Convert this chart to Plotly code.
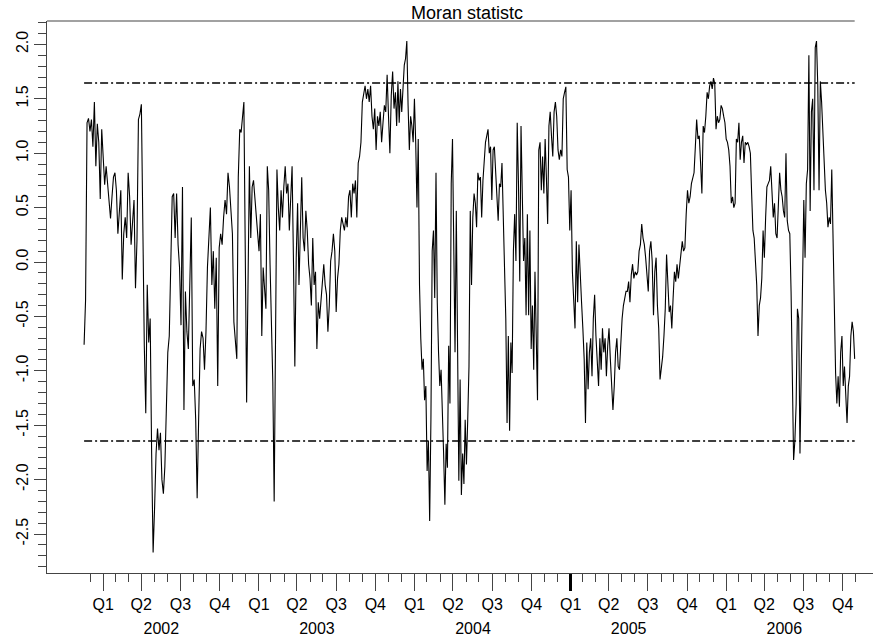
import pandas as pd
import plotly.graph_objects as go

# Moran statistic, read per calendar year (values evenly spaced within each year)
v2002 = [-0.76, -0.35, 1.28, 1.32, 1.2, 1.31, 1.06, 1.47, 0.88, 1.27, 1.1, 0.58, 1.22, 1.0,
         0.71, 0.88, 0.7, 0.5, 0.4, 0.6, 0.78, 0.82, 0.66, 0.26, 0.44, 0.66, -0.16, 0.26,
         0.41, 0.22, 0.82, 0.6, 0.16, 0.41, 0.57, -0.24, 0.19, 1.31, 1.36, 1.45, 0.1, -0.77,
         -1.39, -0.21, -0.74, -0.52, -1.76, -2.67, -2.26, -1.76, -1.53, -1.73, -1.57, -2.0,
         -2.13, -1.88, -1.36, -0.83, -0.68, 0.1, 0.6, 0.63, 0.22, 0.63, 0.16, -0.05, -0.58,
         0.69, -1.36, -0.27, -0.64, -0.8, -0.02, 0.41, -1.14, -1.08, -1.45, -2.17, -1.45,
         -0.8, -0.64, -0.7, -0.99, -0.64, -0.05, 0.29, 0.5, -0.21, 0.1, -0.43, 0.04, -1.14,
         0.13, 0.26, 0.16, 0.41, 0.57, 0.44, 0.82, 0.69, 0.41, 0.26, -0.55, -0.7, -0.89, 0.78]

v2003 = [1.22, 1.19, 1.38, 1.47, 0.1, -1.29, -0.21, 0.88, 0.22, 0.69, 0.75, 0.57, 0.41, 0.26,
         0.1, 0.44, -0.68, -0.05, -0.21, -0.43, 0.88, 0.66, -0.02, -0.7, -1.1,
         -2.2, -0.27, 0.85, 0.5, 0.29, 0.66, 0.41, 0.69, 0.88, 0.63, 0.72, 0.29, 0.6, 0.88,
         0.01, -0.96, 0.04, 0.54, -0.21, 0.35, 0.78, 0.22, 0.1, 0.47, 0.29, -0.02, -0.15,
         -0.4, 0.22, -0.21, -0.09, -0.8, -0.37, -0.52, -0.33, -0.15, -0.02, -0.21, -0.3,
         -0.64, -0.4, 0.01, 0.1, 0.26, 0.1, -0.46, -0.15, -0.02, 0.29, 0.41, 0.35, 0.29,
         0.41, 0.32, 0.6, 0.66, 0.41, 0.72, 0.63, 0.75, 0.41, 0.91, 0.97, 1.1, 1.47, 1.53,
         1.62, 1.5, 1.59, 1.47, 1.62, 1.34, 1.22, 1.41, 1.03, 1.34, 1.25, 1.38, 1.1, 1.28,
         1.44, 1.38, 1.72, 1.34, 1.0, 1.53, 1.75, 1.41]

v2004 = [1.56, 1.25, 1.66, 1.28, 1.59, 1.38, 1.66, 1.81, 1.87, 2.03, 1.44, 1.03, 1.34, 1.25,
         1.1, 1.5, 1.1, 0.5, 1.13, -0.21, -0.7, -0.99, -0.89, -1.27, -1.14, -1.92, -1.64,
         -2.38, -1.45, 0.1, 0.29, -0.33, 0.82, -0.37, -0.83, -1.14, -0.99, -1.51, -1.76,
         -2.23, -1.67, -1.89, -0.77, -1.3, 0.72, 1.13, 0.1, -0.83, 0.47, -1.14, -2.01,
         -1.08, -2.14, -1.76, -2.04, -1.45, -1.86, -1.45, -0.96,
         0.47, -0.21, 0.41, 0.63, 0.54, 0.32, 0.82, 0.75, 0.78, 0.41, 0.75, 0.97, 1.1, 1.16,
         1.22, 1.0, 1.06, 0.57, 1.03, 1.06, 0.78, 0.63, 0.38, 0.72, 0.69, 0.91, 0.29, -0.05,
         -0.52, -1.48, -0.68, -1.55, -0.74, -1.02, 0.1, 0.44, 0.01, 1.28, 0.72, -0.18, 1.25,
         0.41, 0.01, 0.22, -0.49, 0.44, -0.49, 0.29, -0.8, -0.4, -0.99, -0.09, -0.64, -1.27,
         1.03, 1.1, 0.66, 0.97, 0.63, 1.13, 0.78, 0.35, 1.25, 1.38]

v2005 = [1.16, 0.97, 1.38, 1.47, 1.34, 1.03, 0.94, 1.03, 0.97, 1.5, 1.56, 1.61, 0.85, 0.78,
         0.29, 0.66, -0.09, -0.33, -0.61, 0.19, -0.37, 0.16, -0.21, -0.37, -0.61, -0.89,
         -1.48, -0.74, -1.17, -0.83, -0.7, -1.05, -0.52, -0.3, -0.68, -0.99, -1.14, -0.7,
         -0.99, -0.61, -0.83, -0.7, -1.05, -0.77, -0.61, -0.89, -1.08, -1.36, -1.14, -0.83,
         -0.7, -0.96, -0.99, -0.7, -0.52, -0.4, -0.33, -0.27, -0.27, -0.18, -0.37, -0.12,
         -0.02, -0.15, -0.09, -0.12, -0.09, 0.1, 0.16, 0.35, 0.22, 0.16, 0.04, -0.09, -0.27,
         0.1, 0.19, 0.01, -0.49, -0.09, 0.04, -0.4, -0.61, -1.08, -0.99, -0.87, -0.68,
         -0.43, 0.07, -0.27, -0.46, -0.4, -0.61, -0.33, -0.09, -0.18, -0.02, -0.15, -0.05,
         0.1, 0.19, 0.1, 0.13, 0.44, 0.66, 0.54, 0.6, 0.72, 0.78, 0.82, 1.06, 1.31, 1.13,
         1.16, 0.91, 0.63, 1.25, 1.19, 1.34]

v2006 = [1.56, 1.5, 1.62, 1.66, 1.59, 1.69, 1.64, 1.22, 1.34, 1.28, 1.31, 1.44, 1.41, 1.34,
         1.28, 1.13, 1.1, 1.03, 0.88, 0.54, 0.6, 0.5, 0.54, 1.13, 1.1, 1.28, 0.94, 1.1, 1.16,
         0.91, 1.1, 1.08, 1.1, 1.06, 1.0, 0.63, 0.29, 0.22, 0.04, -0.21, -0.68, -0.4, -0.33,
         -0.15, 0.29, 0.04, 0.41, 0.69, 0.72, 0.75, 0.88, 0.6, 0.41, 0.54, 0.26, 0.22, 0.6,
         0.82, 0.66, 0.6, 0.47, 0.41, 1.0, 0.38, 0.29, 0.26, -0.27, -0.99, -1.82, -1.64,
         -1.3, -0.43, -0.52, -1.76, -1.14, -0.21, 0.57, 0.04, 0.72, 0.85, 1.9, 0.47, 1.38,
         1.5, 0.66, 1.97, 2.03, 1.62, 0.66, 1.66, 1.47, 1.19, 0.78, 0.66, 0.54, 0.32, 0.41,
         0.35, 0.85, 0.1, -0.52, -1.02, -1.3, -1.05, -1.33, -0.83, -0.68, -1.14, -0.96, -1.3,
         -1.48, -1.14, -1.05, -0.68, -0.55, -0.64, -0.89]

year_values = [v2002, v2003, v2004, v2005, v2006]
year_spans = [("2002-01-01", "2003-01-01"), ("2003-01-01", "2004-01-01"),
              ("2004-01-01", "2005-01-01"), ("2005-01-01", "2006-01-01"),
              ("2006-01-01", "2006-12-16")]

crit = 1.645  # two-sided 10% normal critical value

years = [2002, 2003, 2004, 2005, 2006]
quarter_labels = ["Q1", "Q2", "Q3", "Q4"]
y_major = [-2.5, -2.0, -1.5, -1.0, -0.5, 0.0, 0.5, 1.0, 1.5, 2.0]
y_minor = [round(-2.8 + 0.1 * i, 1) for i in range(51)]

# build the time index
dates, values = [], []
for (start, end), vals in zip(year_spans, year_values):
    d = pd.date_range(start, end, periods=len(vals) + 1)[:-1]
    dates.extend(d)
    values.extend(vals)

# quarter ticks at mid-quarter, month ticks at mid-month
q_ticks, q_text = [], []
for y in years:
    for m, lab in zip([2, 5, 8, 11], quarter_labels):
        q_ticks.append(pd.Timestamp(y, m, 15))
        q_text.append(lab)
m_ticks = list(pd.date_range("2001-12-15", "2006-12-15", freq="MS") + pd.Timedelta(days=14))
yr_ticks = [pd.Timestamp(y, 7, 1) for y in years]

x_range = [pd.Timestamp("2001-10-06"), pd.Timestamp("2007-01-25")]
font = dict(family="Liberation Sans, Arial, Helvetica, sans-serif", size=16, color="black")
title_font = dict(font, size=18)
axis_col = "#444444"

fig = go.Figure()
fig.add_trace(go.Scatter(x=dates, y=values, mode="lines",
                         line=dict(color="black", width=1.1), showlegend=False,
                         hoverinfo="skip"))
fig.add_trace(go.Scatter(x=[], y=[], xaxis="x2", showlegend=False, hoverinfo="skip"))
fig.add_trace(go.Scatter(x=[], y=[], xaxis="x3", showlegend=False, hoverinfo="skip"))

for level in (crit, -crit):
    fig.add_shape(type="line", x0=dates[0], x1=dates[-1], y0=level, y1=level,
                  xref="x", yref="y",
                  line=dict(color="black", width=1.6, dash="8px,3px,2px,3px"))

# frame line along the top
fig.add_shape(type="line", x0=x_range[0], x1=dates[-1], y0=1, y1=1,
              xref="x", yref="paper", line=dict(color=axis_col, width=1.2))

fig.add_annotation(text="Moran statistc", x=0.5085, y=1, xref="paper", yref="paper",
                   xanchor="center", yanchor="bottom", yshift=-4, showarrow=False,
                   font=title_font)

fig.update_layout(
    width=875, height=638,
    margin=dict(l=47, r=2, t=21, b=65, pad=0),
    paper_bgcolor="white", plot_bgcolor="white",
    font=font,
    xaxis=dict(range=x_range, type="date", showgrid=False, zeroline=False,
               showline=True, linecolor=axis_col, linewidth=1.2,
               tickmode="array", tickvals=q_ticks, ticktext=q_text,
               ticks="outside", ticklen=17, tickwidth=1.2, tickcolor=axis_col,
               minor=dict(tickmode="array", tickvals=m_ticks, ticks="outside",
                          ticklen=8, tickwidth=1.2, tickcolor=axis_col, showgrid=False),
               tickfont=font),
    xaxis2=dict(range=x_range, type="date", overlaying="x", anchor="y", side="bottom",
                showgrid=False, zeroline=False, showline=False,
                tickmode="array", tickvals=yr_ticks, ticktext=[str(y) for y in years],
                ticks="", ticklabelstandoff=44, tickfont=font),
    xaxis3=dict(range=x_range, type="date", overlaying="x", anchor="y", side="bottom",
                showgrid=False, zeroline=False, showline=False, showticklabels=False,
                tickmode="array", tickvals=[pd.Timestamp(2005, 2, 15)],
                ticks="outside", ticklen=17, tickwidth=2.6, tickcolor="black"),
    yaxis=dict(range=[-2.858, 2.215], showgrid=False, zeroline=False,
               showline=True, linecolor=axis_col, linewidth=1.2,
               tickmode="array", tickvals=y_major,
               ticktext=[f"{v:.1f}" for v in y_major],
               ticks="outside", ticklen=12, tickwidth=1.2, tickcolor=axis_col,
               tickangle=-90,
               minor=dict(tickmode="array", tickvals=y_minor, ticks="outside",
                          ticklen=8, tickwidth=1.2, tickcolor=axis_col, showgrid=False),
               tickfont=font),
)

fig.write_html("out.html")
